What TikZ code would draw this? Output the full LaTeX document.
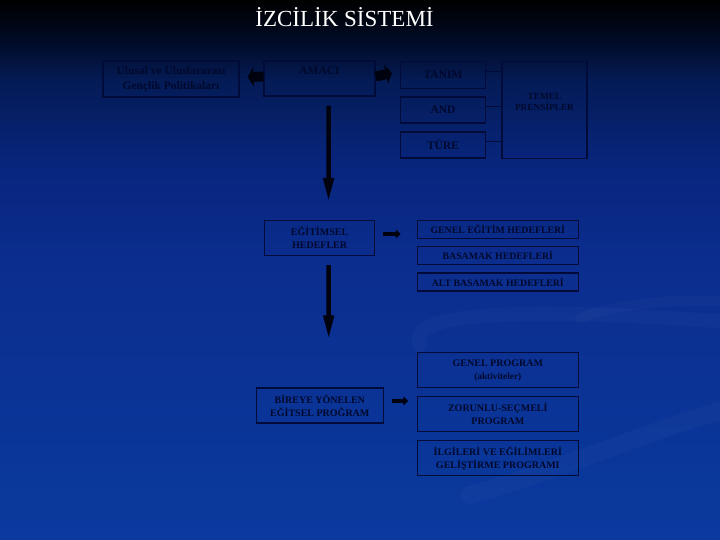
\documentclass[tikz,border=0pt]{standalone}
\usepackage{fontspec}
\setmainfont{Liberation Serif}
\usetikzlibrary{arrows.meta}
\definecolor{bg0}{HTML}{000000}
\definecolor{bg1}{HTML}{010B26}
\definecolor{bg2}{HTML}{041B55}
\definecolor{bg3}{HTML}{08257C}
\definecolor{bg4}{HTML}{0B2D8E}
\definecolor{bg5}{HTML}{0A3A9E}
\definecolor{boxc}{HTML}{000B3A}
\definecolor{txtc}{HTML}{00082C}
\definecolor{arrc}{HTML}{00030F}
\tikzset{
  box/.style={draw=boxc, line width=1.1pt, inner sep=0pt, align=center, text=txtc},
  ftbig/.style={font=\bfseries\fontsize{11.5}{14}\selectfont},
  ftmid/.style={font=\bfseries\fontsize{10}{13}\selectfont},
  fthed/.style={font=\bfseries\fontsize{9.8}{12}\selectfont},
  ftsmall/.style={font=\bfseries\fontsize{9.3}{11}\selectfont},
  fatarrow/.style={draw=arrc, line width=10pt, -{Triangle[length=6pt,width=19pt]}},
  vertarrow/.style={draw=arrc, line width=4.5pt, -{Triangle[length=24pt,width=10pt]}},
  smallarrow/.style={draw=arrc, line width=4pt, -{Triangle[length=5pt,width=9pt]}},
  link/.style={draw=boxc, line width=0.9pt},
  swoosh/.style={white, opacity=0.022, line cap=round}
}
\begin{document}
\begin{tikzpicture}[x=1pt,y=-1pt]
\useasboundingbox (0,0) rectangle (720,540);
% background
\shade[top color=bg0, bottom color=bg1] (0,0) rectangle (720,41);
\shade[top color=bg1, bottom color=bg2] (0,40) rectangle (720,81);
\shade[top color=bg2, bottom color=bg3] (0,80) rectangle (720,161);
\shade[top color=bg3, bottom color=bg4] (0,160) rectangle (720,261);
\shade[top color=bg4, bottom color=bg5] (0,260) rectangle (720,540);
% faint swooshes
\draw[swoosh, line width=14pt] (420,345) .. controls (405,315) and (500,305) .. (730,322);
\draw[swoosh, line width=10pt] (580,318) .. controls (620,302) and (690,298) .. (730,302);
\draw[swoosh, line width=18pt] (470,495) .. controls (560,470) and (650,430) .. (730,408);

% title
\node[text=white, font=\fontsize{23}{25}\selectfont, inner sep=0pt] (title) at (344.5,17) {İZCİLİK SİSTEMİ};

% top row
\node[box, font=\bfseries\fontsize{11.5}{15.5}\selectfont, minimum width=136pt, minimum height=36pt] (ulusal) at (171,79) {Ulusal ve Uluslararası\\Gençlik Politikaları};
\node[box, minimum width=111pt, minimum height=35pt] (amaci) at (319.5,78.5) {};
\node[ftbig, text=txtc, inner sep=0pt, anchor=north] (amacit) at ([yshift=-6pt]amaci.north) {AMACI};
\node[box, ftbig, minimum width=85pt, minimum height=27pt] (tanim) at (443,75) {TANIM};
\node[box, ftbig, minimum width=85pt, minimum height=26pt] (and) at (443,110) {AND};
\node[box, ftbig, minimum width=85pt, minimum height=26pt] (ture) at (443,145) {TÜRE};
\node[box, minimum width=85pt, minimum height=97pt] (temel) at (544.5,110) {};
\node[ftsmall, text=txtc, align=center, inner sep=0pt] (temelt) at ([yshift=8pt]temel.center) {TEMEL\\PRENSİPLER};

\draw[link] ([yshift=4pt]tanim.east) -- ([yshift=4pt]tanim.east -| temel.west);
\draw[link] ([yshift=4pt]and.east) -- ([yshift=4pt]and.east -| temel.west);
\draw[link] ([yshift=4pt]ture.east) -- ([yshift=4pt]ture.east -| temel.west);

\draw[fatarrow] ([yshift=2pt]amaci.west) -- ([xshift=8pt,yshift=2pt]ulusal.east);
\draw[fatarrow] ([yshift=2pt]amaci.east) -- ([xshift=-8pt,yshift=2pt]tanim.west);

% middle row
\node[box, ftmid, minimum width=110pt, minimum height=35pt] (egitimsel) at (319.6,238) {EĞİTİMSEL\\HEDEFLER};
\node[box, fthed, minimum width=161pt, minimum height=18pt] (geneleg) at (497.8,229.5) {GENEL EĞİTİM HEDEFLERİ};
\node[box, fthed, minimum width=161pt, minimum height=18pt] (basamak) at (497.8,255.5) {BASAMAK HEDEFLERİ};
\node[box, fthed, minimum width=161pt, minimum height=18pt] (altbasamak) at (497.8,282) {ALT BASAMAK HEDEFLERİ};

\draw[vertarrow, shorten <=9pt, shorten >=18pt] ([xshift=9pt]amaci.south) -- ([xshift=9pt]egitimsel.north);
\draw[smallarrow, shorten <=8pt, shorten >=16pt] ([yshift=4pt]egitimsel.east) -- ([yshift=4pt]egitimsel.east -| geneleg.west);

% bottom row
\node[box, ftmid, minimum width=127pt, minimum height=35pt] (bireye) at (319.8,405.5) {BİREYE YÖNELEN\\EĞİTSEL PROĞRAM};
\node[box, ftmid, minimum width=161pt, minimum height=35pt] (genelprog) at (497.8,370.4) {GENEL PROGRAM\\{\fontsize{9.3}{11}\selectfont(aktiviteler)}};
\node[box, ftmid, minimum width=161pt, minimum height=35pt] (zorunlu) at (497.8,414) {ZORUNLU-SEÇMELİ\\PROGRAM};
\node[box, ftmid, minimum width=161pt, minimum height=35pt] (ilgileri) at (497.8,458.3) {İLGİLERİ VE EĞİLİMLERİ\\GELİŞTİRME PROGRAMI};

\draw[vertarrow, shorten <=9pt, shorten >=48pt] ([xshift=9pt]egitimsel.south) -- ([xshift=9pt]bireye.north);
\draw[smallarrow, shorten <=8pt, shorten >=8.5pt] ([yshift=4.5pt]bireye.east) -- ([yshift=4.5pt]bireye.east -| zorunlu.west);
\end{tikzpicture}
\end{document}
